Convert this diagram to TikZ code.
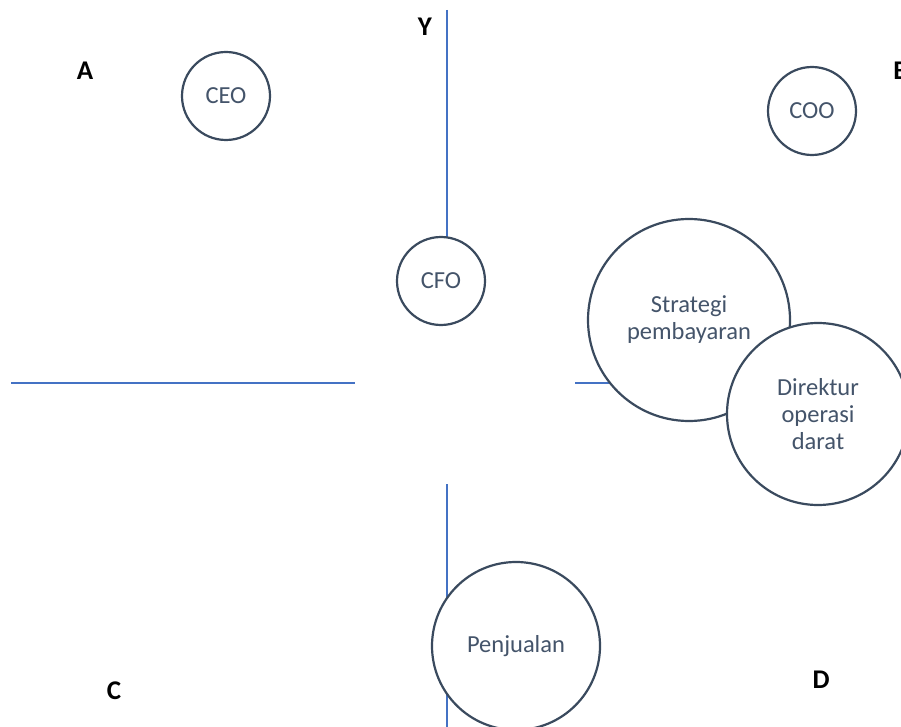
\documentclass[tikz,border=0pt]{standalone}
\usepackage{fontspec}
\setmainfont{Carlito}
\begin{document}
\begin{tikzpicture}[x=1pt,y=-1pt,
  axis/.style={draw=axisblue,line width=2.6pt},
  bubble/.style={circle,draw=ringgrey,line width=2.2pt,fill=white,inner sep=0pt,
    text=textgrey,align=center,font=\fontsize{24.5}{27}\selectfont},
  quad/.style={font=\fontsize{27}{30}\selectfont\bfseries,text=black}]
\definecolor{axisblue}{HTML}{4472C4}
\definecolor{ringgrey}{HTML}{3A4A5E}
\definecolor{textgrey}{HTML}{44546A}
\useasboundingbox (0,0) rectangle (901,727);
% axes
\coordinate (ytop) at (447,10);
\coordinate (ymid) at (447,281);
\coordinate (ylow) at (447,484);
\coordinate (ybot) at (447,727);
\coordinate (xl1) at (11,383);
\coordinate (xl2) at (355,383);
\coordinate (xr1) at (575,383);
\coordinate (xr2) at (880,383);
\draw[axis] (ytop) -- (ymid);
\draw[axis] (ylow) -- (ybot);
\draw[axis] (xl1) -- (xl2);
\draw[axis] (xr1) -- (xr2);
% bubbles
\node[bubble,minimum size=88pt] (ceo) at (226,96) {CEO};
\node[bubble,minimum size=88pt] (coo) at (812,111) {COO};
\node[bubble,minimum size=88pt] (cfo) at (441,281) {CFO};
\node[bubble,minimum size=202pt] (strat) at (689,320) {Strategi\\pembayaran};
\node[bubble,minimum size=182pt] (dir) at (818,414) {Direktur\\operasi\\darat};
\node[bubble,minimum size=168pt] (jual) at (516,646) {Penjualan};
% quadrant labels
\node[quad] (lA) at (85,71) {A};
\node[quad] (lB) at (901,71) {B};
\node[quad] (lC) at (114,691) {C};
\node[quad] (lD) at (821,680) {D};
\node[quad] (lY) at (425,27) {Y};
\end{tikzpicture}
\end{document}
